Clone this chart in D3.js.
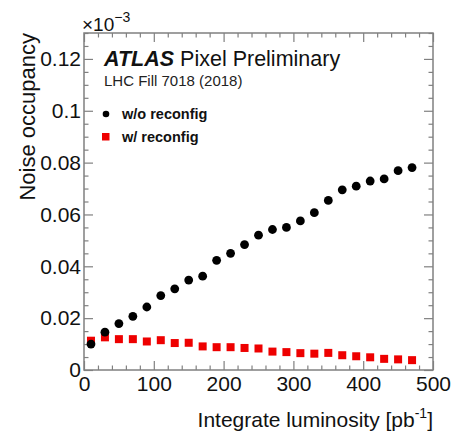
<!DOCTYPE html>
<html>
<head>
<meta charset="utf-8">
<script src="https://cdn.jsdelivr.net/npm/d3@7"></script>
<style>
  body { margin: 0; background: #fff; }
  text { font-family: "Liberation Sans", Arial, sans-serif; }
</style>
</head>
<body>
<div id="chart"></div>
<script>
// integrated luminosity [pb^-1]
var lumi = [10, 30, 50, 70, 90, 110, 130, 150, 170, 190, 210, 230, 250, 270, 290, 310, 330, 350, 370, 390, 410, 430, 450, 470];
// noise occupancy (x 10^-3)
var noReconfig = [0.0100, 0.0146, 0.0179, 0.0207, 0.0243, 0.0287, 0.0313, 0.0347, 0.0362, 0.0423, 0.0450, 0.0484,
                  0.0520, 0.0542, 0.0550, 0.0575, 0.0607, 0.0654, 0.0695, 0.0709, 0.0729, 0.0737, 0.0769, 0.0781];
var withReconfig = [0.0113, 0.0126, 0.0119, 0.0119, 0.0110, 0.0115, 0.0104, 0.0105, 0.0091, 0.0088, 0.0088, 0.0085,
                    0.0083, 0.0071, 0.0069, 0.0065, 0.0063, 0.0066, 0.0057, 0.0053, 0.0049, 0.0043, 0.0041, 0.0038];
var xTicks = [0, 100, 200, 300, 400, 500];
var yTicks = [0, 0.02, 0.04, 0.06, 0.08, 0.1, 0.12];

var w = 454, h = 434;
var margin = {left: 84, right: 21, top: 33, bottom: 64};
var frameColor = "#808080";

var svg = d3.select("#chart").append("svg")
    .attr("width", w)
    .attr("height", h);

var x = d3.scaleLinear().domain([0, 500]).range([margin.left, w - margin.right]);
var y = d3.scaleLinear().domain([0, 0.13]).range([h - margin.bottom, margin.top]);

var xMinor = d3.range(0, 501, 20).filter(function(v) { return v % 100 != 0; });
var yMinor = d3.range(0, 0.1301, 0.005).filter(function(v) { return Math.abs(v / 0.02 - Math.round(v / 0.02)) > 1e-6; });

function styleAxis(g) {
    g.select(".domain").remove();
    g.selectAll(".tick line").attr("stroke", frameColor).attr("stroke-width", 1.2);
    g.selectAll(".tick text").attr("fill", "#111").style("font-size", "21px");
}

// bottom axis with labels
svg.append("g")
    .attr("transform", "translate(0," + (h - margin.bottom) + ")")
    .call(d3.axisBottom(x).tickValues(xTicks).tickSizeInner(-9).tickSizeOuter(0).tickPadding(6).tickFormat(d3.format("d")))
    .call(styleAxis);
svg.append("g")
    .attr("transform", "translate(0," + (h - margin.bottom) + ")")
    .call(d3.axisBottom(x).tickValues(xMinor).tickSizeInner(-4.5).tickSizeOuter(0).tickFormat(""))
    .call(styleAxis);

// top axis, ticks only
svg.append("g")
    .attr("transform", "translate(0," + margin.top + ")")
    .call(d3.axisTop(x).tickValues(xTicks).tickSizeInner(-9).tickSizeOuter(0).tickFormat(""))
    .call(styleAxis);
svg.append("g")
    .attr("transform", "translate(0," + margin.top + ")")
    .call(d3.axisTop(x).tickValues(xMinor).tickSizeInner(-4.5).tickSizeOuter(0).tickFormat(""))
    .call(styleAxis);

// left axis with labels
svg.append("g")
    .attr("transform", "translate(" + margin.left + ",0)")
    .call(d3.axisLeft(y).tickValues(yTicks).tickSizeInner(-9).tickSizeOuter(0).tickPadding(3).tickFormat(d3.format("~g")))
    .call(styleAxis);
svg.append("g")
    .attr("transform", "translate(" + margin.left + ",0)")
    .call(d3.axisLeft(y).tickValues(yMinor).tickSizeInner(-4.5).tickSizeOuter(0).tickFormat(""))
    .call(styleAxis);

// right axis, ticks only
svg.append("g")
    .attr("transform", "translate(" + (w - margin.right) + ",0)")
    .call(d3.axisRight(y).tickValues(yTicks).tickSizeInner(-9).tickSizeOuter(0).tickFormat(""))
    .call(styleAxis);
svg.append("g")
    .attr("transform", "translate(" + (w - margin.right) + ",0)")
    .call(d3.axisRight(y).tickValues(yMinor).tickSizeInner(-4.5).tickSizeOuter(0).tickFormat(""))
    .call(styleAxis);

// frame
svg.append("rect")
    .attr("x", margin.left)
    .attr("y", margin.top)
    .attr("width", w - margin.left - margin.right)
    .attr("height", h - margin.top - margin.bottom)
    .attr("fill", "none")
    .attr("stroke", frameColor)
    .attr("stroke-width", 1.5);

// red squares (w/ reconfig)
var sq = 8;
svg.append("g").selectAll("rect")
    .data(lumi)
    .enter().append("rect")
    .attr("x", function(d) { return x(d) - sq / 2; })
    .attr("y", function(d, i) { return y(withReconfig[i]) - sq / 2; })
    .attr("width", sq)
    .attr("height", sq)
    .attr("fill", "#ee0000");

// black circles (w/o reconfig)
svg.append("g").selectAll("circle")
    .data(lumi)
    .enter().append("circle")
    .attr("cx", function(d) { return x(d); })
    .attr("cy", function(d, i) { return y(noReconfig[i]); })
    .attr("r", 4.4)
    .attr("fill", "#000");

// exponent label
var expo = svg.append("text")
    .attr("x", margin.left - 2)
    .attr("y", 31)
    .style("font-size", "19px")
    .attr("fill", "#111");
expo.append("tspan").text("\u00d710");
expo.append("tspan").attr("dy", -9).style("font-size", "14px").text("\u22123");

// axis titles
svg.append("text")
    .attr("transform", "translate(35," + margin.top + ") rotate(-90)")
    .attr("text-anchor", "end")
    .style("font-size", "22px")
    .attr("fill", "#111")
    .text("Noise occupancy");

var xt = svg.append("text")
    .attr("x", w - margin.right)
    .attr("y", 427)
    .attr("text-anchor", "end")
    .style("font-size", "21px")
    .attr("fill", "#111");
xt.append("tspan").text("Integrate luminosity [pb");
xt.append("tspan").attr("dy", -9).style("font-size", "14px").text("-1");
xt.append("tspan").attr("dy", 9).text("]");

// ATLAS label
var atl = svg.append("text")
    .attr("x", 104)
    .attr("y", 66)
    .style("font-size", "21.5px")
    .attr("fill", "#111");
atl.append("tspan").style("font-weight", "bold").style("font-style", "italic").text("ATLAS");
atl.append("tspan").text(" Pixel Preliminary");

svg.append("text")
    .attr("x", 104)
    .attr("y", 86)
    .style("font-size", "15px")
    .attr("fill", "#222")
    .text("LHC Fill 7018 (2018)");

// legend
svg.append("circle").attr("cx", 106).attr("cy", 114).attr("r", 3.3).attr("fill", "#000");
svg.append("text")
    .attr("x", 122).attr("y", 119)
    .style("font-size", "14.5px").style("font-weight", "bold")
    .attr("fill", "#111")
    .text("w/o reconfig");
svg.append("rect").attr("x", 102).attr("y", 133).attr("width", 7.5).attr("height", 7.5).attr("fill", "#ee0000");
svg.append("text")
    .attr("x", 122).attr("y", 142)
    .style("font-size", "14.5px").style("font-weight", "bold")
    .attr("fill", "#111")
    .text("w/ reconfig");
</script>
</body>
</html>
